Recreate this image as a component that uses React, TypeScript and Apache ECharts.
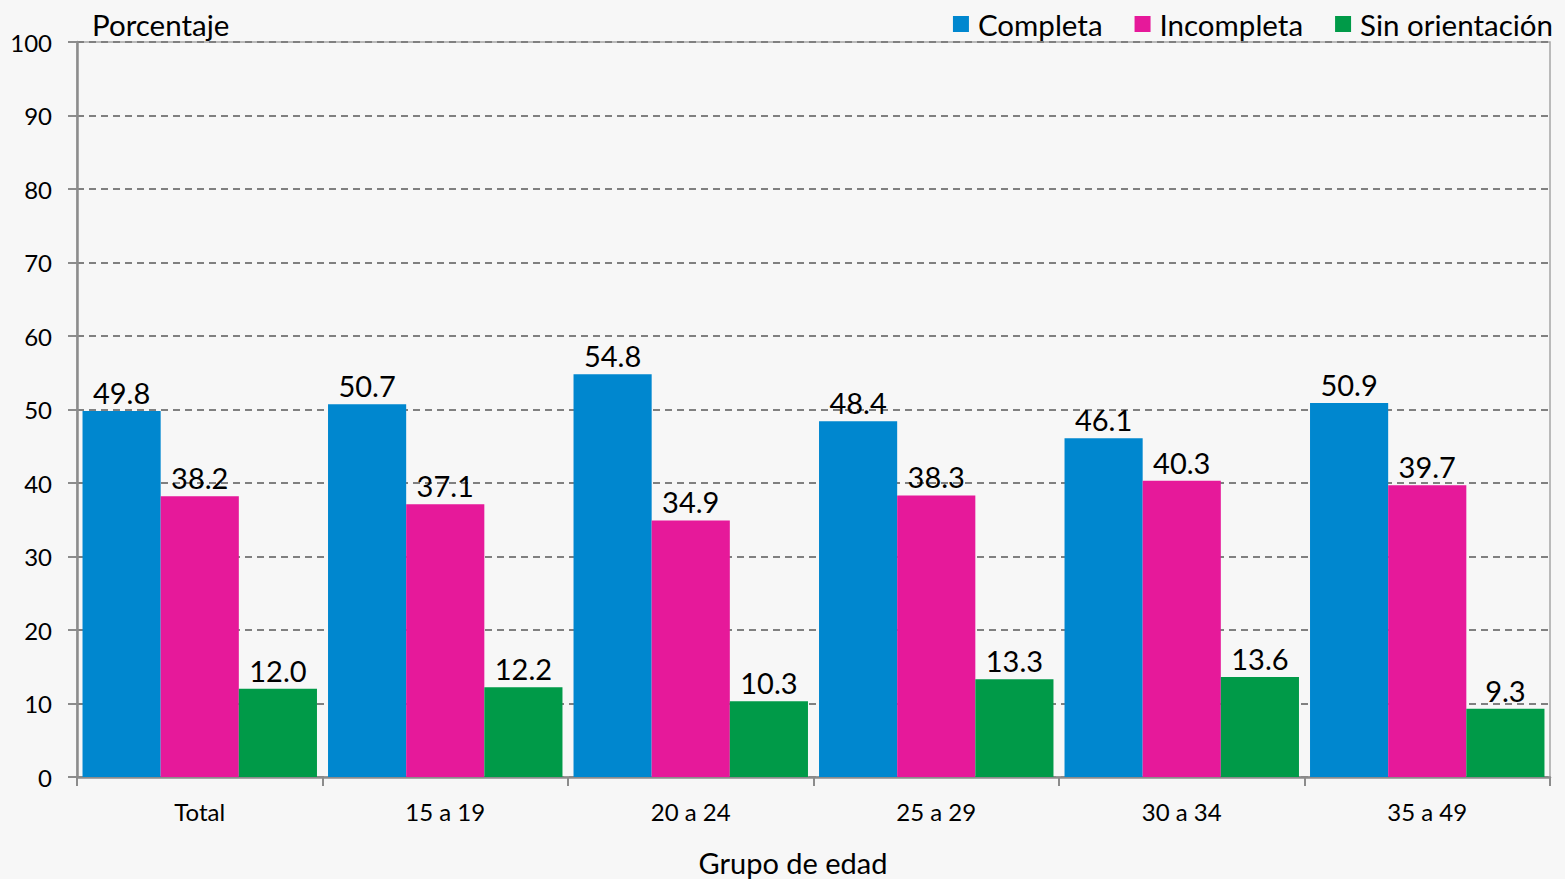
import React, { useEffect, useRef } from "react";
import * as echarts from "echarts";

const categories = ["Total", "15 a 19", "20 a 24", "25 a 29", "30 a 34", "35 a 49"];
const completa = [49.8, 50.7, 54.8, 48.4, 46.1, 50.9];
const incompleta = [38.2, 37.1, 34.9, 38.3, 40.3, 39.7];
const sinOrientacion = [12.0, 12.2, 10.3, 13.3, 13.6, 9.3];
const seriesNames = ["Completa", "Incompleta", "Sin orientación"];
const colors = ["#0087cf", "#e6199a", "#009a48"];

const FONT = "Lato, 'Noto Sans', sans-serif";

export default function App() {
  const ref = useRef<HTMLDivElement>(null);
  useEffect(() => {
    if (!ref.current) return;
    const chart = echarts.init(ref.current, undefined, { renderer: "svg" });
    const values = [completa, incompleta, sinOrientacion];
    chart.setOption({
      animation: false,
      backgroundColor: "#f7f7f7",
      textStyle: { fontFamily: FONT, color: "#000" },
      grid: {
        left: 77,
        right: 15,
        top: 42,
        bottom: 102,
        outerBoundsMode: "none",
        containLabel: false,
        show: true,
        borderColor: "#a6a6a6",
        borderWidth: 1.5,
        backgroundColor: "transparent",
      },
      legend: {
        right: 7,
        top: 4,
        itemWidth: 16,
        itemHeight: 16,
        itemGap: 32,
        icon: "rect",
        textStyle: { fontFamily: FONT, fontSize: 29.5, color: "#000", padding: [0, 0, 0, 4] },
        data: seriesNames,
      },
      graphic: [
        {
          type: "text",
          left: 92,
          top: 9,
          style: { text: "Porcentaje", font: `29.5px ${FONT}`, fill: "#000" },
        },
        {
          type: "text",
          x: 793,
          y: 862,
          style: {
            text: "Grupo de edad",
            font: `29px ${FONT}`,
            fill: "#000",
            align: "center",
            verticalAlign: "middle",
          },
        },
      ],
      xAxis: {
        type: "category",
        data: categories,
        axisLine: { lineStyle: { color: "#8c8c8c", width: 2.5 } },
        axisTick: { show: true, length: 9, interval: 0, lineStyle: { color: "#8c8c8c", width: 2 } },
        axisLabel: { fontFamily: FONT, fontSize: 24, color: "#000", margin: 22 },
      },
      yAxis: {
        type: "value",
        min: 0,
        max: 100,
        interval: 10,
        axisLine: { show: true, lineStyle: { color: "#8c8c8c", width: 2.5 } },
        axisTick: { show: true, length: 9, lineStyle: { color: "#8c8c8c", width: 2 } },
        axisLabel: { fontFamily: FONT, fontSize: 24, color: "#000", margin: 25 },
        splitLine: { lineStyle: { color: "#808080", width: 2, type: [7, 5] } },
      },
      series: seriesNames.map((name, i) => ({
        name,
        type: "bar",
        data: values[i],
        barGap: "0%",
        barCategoryGap: "4.5%",
        itemStyle: { color: colors[i] },
        label: {
          show: true,
          position: "top",
          distance: 4,
          fontFamily: FONT,
          fontSize: 29,
          color: "#000",
          formatter: (p: any) => Number(p.value).toFixed(1),
        },
      })),
    });
    return () => chart.dispose();
  }, []);
  return (
    <div
      ref={ref}
      style={{ position: "fixed", left: 0, top: 0, width: 1565, height: 879 }}
    />
  );
}
